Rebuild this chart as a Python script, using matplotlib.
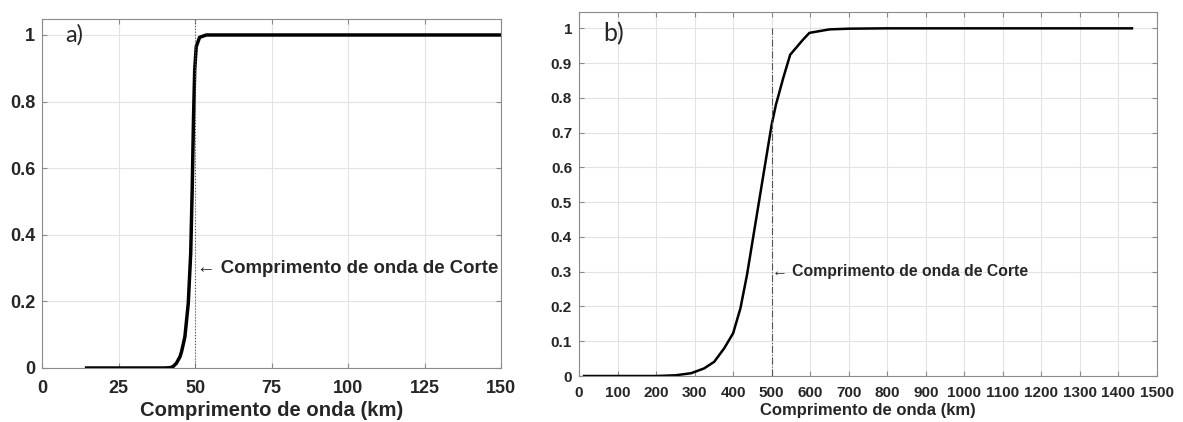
import numpy as np
import matplotlib
matplotlib.use("Agg")
import matplotlib.pyplot as plt

plt.rcParams['font.family'] = ['Liberation Sans', 'DejaVu Sans']

# painel a) - curva de resposta (valores lidos do grafico)
comp_a = [14, 30, 40, 41.8, 42.8, 43.9, 45.1, 45.6, 46.1, 46.7, 47.8, 48.6, 49.1, 49.5, 49.9, 50.4,
          51.5, 53.7, 60, 100, 150]
resp_a = [0, 0, 0, 0.001, 0.004, 0.014, 0.034, 0.049, 0.069, 0.094, 0.194, 0.345, 0.544, 0.745, 0.895,
          0.965, 0.993, 1.0, 1.0, 1.0, 1.0]

# painel b)
comp_b = [13, 100, 200, 250, 291, 325, 351, 377, 400, 419, 436, 453, 470, 487, 500, 511, 530, 548,
          581, 598, 650, 700, 800, 1000, 1435]
resp_b = [0, 0, 0, 0.002, 0.008, 0.022, 0.041, 0.080, 0.123, 0.195, 0.291, 0.406, 0.521, 0.636, 0.723,
          0.78, 0.857, 0.924, 0.967, 0.987, 0.997, 0.999, 1.0, 1.0, 1.0]

corte_a = 50
corte_b = 500
texto = "Comprimento de onda de Corte"
xlab = "Comprimento de onda (km)"
cor_txt = '#262626'
cor_eixo = '#8a8a8a'

W, H = 1183, 422
fig = plt.figure(figsize=(W / 100, H / 100), dpi=100)

# ---- a) ----
ax1 = fig.add_axes([42 / W, (H - 368) / H, 459 / W, 349 / H])
ax1.plot(comp_a, resp_a, color='black', lw=2.5, solid_joinstyle='round', solid_capstyle='butt')
ax1.axvline(corte_a, color='#555555', lw=0.8, ls=':')
ax1.set_xlim(0, 150)
ax1.set_ylim(0, 1.048)
ax1.set_xticks(np.arange(0, 151, 25))
ax1.set_yticks([0, 0.2, 0.4, 0.6, 0.8, 1])
ax1.set_yticklabels(['0', '0.2', '0.4', '0.6', '0.8', '1'])
ax1.tick_params(direction='in', top=True, right=True, labelsize=13, colors=cor_txt,
                length=3.6, color=cor_eixo)
ax1.tick_params(axis='x', pad=8.5)
ax1.tick_params(axis='y', pad=5)
for lab in ax1.get_xticklabels() + ax1.get_yticklabels():
    lab.set_fontweight('bold')
ax1.set_xlabel(xlab, fontsize=14.6, fontweight='bold', color=cor_txt, labelpad=3)
ax1.grid(True, color='#e3e3e3', lw=0.8)
ax1.set_axisbelow(True)
for s in ax1.spines.values():
    s.set_color(cor_eixo)
ax1.text(50.6, 0.3, "\u2190 " + texto, fontsize=13.4, fontweight='bold', color=cor_txt, va='center')
ax1.text(7.5, 1.0, "a)", fontsize=17, family=['Lato', 'DejaVu Sans'], color=cor_txt, va='center')

# ---- b) ----
ax2 = fig.add_axes([579 / W, (H - 376) / H, 578 / W, 364 / H])
ax2.plot(comp_b, resp_b, color='black', lw=1.8, solid_joinstyle='round')
ax2.plot([corte_b, corte_b], [0, 1], color='#555555', lw=0.8, ls='-.')
ax2.set_xlim(0, 1500)
ax2.set_ylim(0, 1.047)
ax2.set_xticks(np.arange(0, 1501, 100))
ax2.set_yticks(np.arange(0, 1.01, 0.1))
ax2.set_yticklabels(['0'] + ['%.1f' % v for v in np.arange(0.1, 0.95, 0.1)] + ['1'])
ax2.tick_params(direction='in', top=True, right=True, labelsize=11, colors=cor_txt,
                length=3.6, color=cor_eixo)
ax2.tick_params(axis='x', pad=7)
ax2.tick_params(axis='y', pad=5)
for lab in ax2.get_xticklabels() + ax2.get_yticklabels():
    lab.set_fontweight('bold')
ax2.set_xlabel(xlab, fontsize=12, fontweight='bold', color=cor_txt, labelpad=2)
ax2.grid(True, color='#e3e3e3', lw=0.8)
ax2.set_axisbelow(True)
for s in ax2.spines.values():
    s.set_color(cor_eixo)
ax2.text(501, 0.3, "\u2190 " + texto, fontsize=11.3, fontweight='bold', color=cor_txt, va='center')
ax2.text(62, 0.985, "b)", fontsize=18, family=['Lato', 'DejaVu Sans'], color=cor_txt, va='center')

fig.savefig("out.png", dpi=100)
